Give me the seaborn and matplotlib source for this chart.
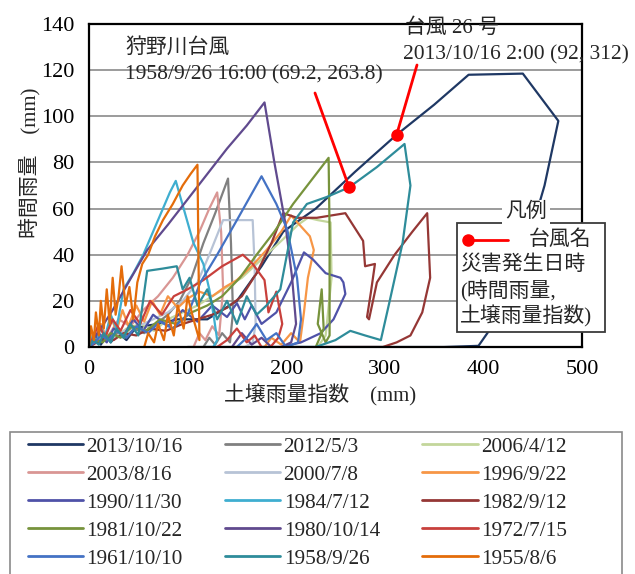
import matplotlib
matplotlib.use("Agg")
import matplotlib.pyplot as plt
import pandas as pd
import seaborn as sns
from matplotlib.patches import Rectangle
from matplotlib.lines import Line2D

# ---- data: soil rainfall index (mm) vs. hourly rainfall (mm) per event ----
events = ["2013/10/16", "2012/5/3", "2006/4/12", "2003/8/16", "2000/7/8", "1996/9/22",
          "1990/11/30", "1984/7/12", "1982/9/12", "1981/10/22", "1980/10/14", "1972/7/15",
          "1961/10/10", "1958/9/26", "1955/8/6"]

soil_2013 = [0, 3, 8, 12, 18, 22, 30, 38, 45, 55, 70, 90, 120, 150, 175, 197, 230, 270, 312,
             350, 385, 440, 476, 462, 445, 425, 404, 395, 360, 320, 280, 240, 200, 160, 120, 100]
rain_2013 = [0, 2, 4, 1, 5, 2, 6, 3, 7, 9, 10, 12, 12, 20, 35, 50, 60, 76, 92,
             105, 118, 118.5, 98, 70, 45, 20, 6, 0.5, 0, 0, 0, 0, 0, 0, 0, 0]

soil_2012 = [0, 6, 12, 20, 28, 36, 46, 56, 68, 80, 92, 104, 116, 128, 141, 144, 146, 143, 135,
             128, 122, 116]
rain_2012 = [0, 2, 5, 3, 6, 4, 8, 6, 10, 14, 20, 30, 45, 58, 73, 45, 15, 2, 6, 1, 4, 0]

soil_2006 = [0, 8, 16, 26, 38, 52, 66, 80, 95, 110, 125, 140, 155, 170, 185, 200, 212, 222,
             232, 245, 246, 240, 232]
rain_2006 = [0, 3, 6, 4, 8, 10, 7, 12, 15, 18, 22, 26, 30, 36, 42, 48, 53, 56,
             55, 54, 30, 5, 0]

soil_2003 = [0, 5, 12, 20, 30, 42, 55, 70, 85, 100, 112, 122, 130, 134, 136, 132, 125,
             118, 112, 106]
rain_2003 = [0, 4, 8, 5, 12, 9, 16, 22, 30, 40, 50, 60, 67, 50, 25, 5, 9, 3, 6, 0]

soil_2000 = [0, 6, 14, 24, 36, 50, 65, 80, 95, 110, 122, 136, 150, 166, 168, 169, 166, 158]
rain_2000 = [0, 2, 5, 3, 7, 9, 12, 15, 20, 28, 40, 55, 55, 55, 35, 10, 2, 0]

soil_1996 = [0, 4, 8, 12, 17, 22, 28, 34, 40, 48, 56, 64, 72, 80, 90, 100, 112, 125, 138,
             150, 165, 180, 195, 205, 224, 228, 222, 218, 214, 205, 195, 185, 178, 170]
rain_1996 = [0, 6, 2, 10, 4, 13, 7, 16, 9, 18, 11, 20, 14, 22, 17, 21, 24, 22, 26,
             29, 35, 42, 50, 57, 48, 42, 30, 15, 2, 6, 1, 4, 0, 0]

soil_1990 = [0, 5, 10, 18, 25, 35, 45, 55, 65, 80, 95, 110, 125, 140, 150, 158, 165, 175,
             190, 205, 218, 227, 240, 255, 258, 260, 248, 235, 215, 195]
rain_1990 = [0, 3, 6, 2, 8, 5, 12, 7, 14, 9, 16, 11, 18, 13, 19, 12, 18, 10,
             15, 28, 41, 38, 32, 30, 28, 23, 12, 6, 2, 0]

soil_1984 = [0, 4, 8, 12, 16, 22, 28, 35, 45, 55, 65, 75, 82, 88, 96, 106, 116, 122, 127,
             130, 126, 118]
rain_1984 = [0, 5, 2, 9, 4, 14, 8, 25, 32, 40, 50, 60, 67, 72, 60, 45, 36, 25, 12,
             3, 0, 0]

soil_1982 = [0, 8, 16, 25, 35, 48, 62, 78, 95, 110, 125, 140, 155, 170, 185, 197, 211, 231,
             260, 278, 280, 290, 286, 282, 284, 292, 310, 328, 343, 346, 338, 326, 312,
             298, 270, 240]
rain_1982 = [0, 2, 4, 3, 6, 5, 8, 7, 10, 12, 14, 17, 22, 32, 45, 58, 56, 56,
             58, 46, 35, 36, 24, 13, 12, 28, 40, 50, 58, 30, 15, 5, 2,
             0, 0, 0]

soil_1981 = [0, 6, 14, 22, 32, 44, 58, 72, 88, 104, 120, 135, 153, 170, 188, 207, 225, 243,
             244, 244, 240, 232, 236, 238, 230]
rain_1981 = [0, 3, 2, 6, 4, 9, 7, 12, 10, 15, 18, 22, 30, 40, 50, 62, 72, 82,
             50, 5, 2, 10, 25, 8, 0]

soil_1980 = [0, 5, 12, 24, 40, 59, 80, 100, 120, 140, 160, 178, 188, 199, 206, 210, 205, 195,
             185, 175, 165, 155, 145]
rain_1980 = [0, 4, 8, 16, 28, 42, 53, 64, 75, 86, 96, 106, 80, 54, 30, 10, 2, 0,
             0, 4, 1, 6, 0]

soil_1972 = [0, 5, 10, 16, 24, 32, 42, 52, 62, 74, 86, 100, 116, 135, 156, 166, 178, 182,
             190, 196, 192, 184, 175, 168, 160, 150, 140, 130]
rain_1972 = [0, 5, 10, 4, 12, 7, 16, 10, 20, 14, 22, 25, 29, 35, 40, 36, 29, 15,
             24, 10, 4, 0, 0, 5, 2, 8, 3, 0]

soil_1961 = [0, 6, 12, 20, 28, 38, 48, 60, 72, 85, 100, 113, 130, 150, 175, 190, 201, 211,
             215, 212, 200, 190, 180, 170, 160, 150]
rain_1961 = [0, 2, 5, 3, 7, 4, 9, 6, 11, 8, 14, 28, 40, 55, 74, 62, 51, 30,
             12, 2, 0, 6, 3, 10, 4, 0]

soil_1958 = [0, 4, 10, 15, 22, 28, 35, 42, 50, 59, 75, 89, 95, 102, 110, 120, 130, 140, 150,
             160, 170, 180, 194, 207, 221, 241, 263.8, 292, 320, 326, 318, 305, 296, 280,
             265, 250, 230, 200]
rain_1958 = [0, 3, 1, 6, 2, 8, 4, 10, 5, 33, 34, 35, 25, 30, 18, 25, 12, 20, 10,
             22, 14, 18, 25, 54, 62, 65, 69.2, 78, 88, 70, 45, 20, 3, 5,
             7, 3, 0, 0]

soil_1955 = [0, 2, 5, 7, 10, 12, 15, 18, 21, 24, 27, 30, 33, 37, 41, 45, 49, 54, 60, 67,
             75, 85, 95, 103, 110, 111, 112, 106, 100, 96, 90, 86, 80, 76, 70, 66, 60, 56]
rain_1955 = [0, 9, 3, 15, 5, 20, 8, 25, 10, 30, 14, 22, 35, 18, 26, 12, 28, 36, 40, 48,
             55, 62, 70, 75, 79, 40, 3, 12, 22, 8, 18, 5, 14, 3, 10, 2, 6, 0]

soil_paths = [soil_2013, soil_2012, soil_2006, soil_2003, soil_2000, soil_1996, soil_1990,
              soil_1984, soil_1982, soil_1981, soil_1980, soil_1972, soil_1961, soil_1958,
              soil_1955]
rain_paths = [rain_2013, rain_2012, rain_2006, rain_2003, rain_2000, rain_1996, rain_1990,
              rain_1984, rain_1982, rain_1981, rain_1980, rain_1972, rain_1961, rain_1958,
              rain_1955]

# typhoon disaster moments: (hourly rainfall, soil rainfall index)
kanogawa_rain, kanogawa_soil = 69.2, 263.8
no26_rain, no26_soil = 92, 312

colors = ["#1F3864", "#808080", "#C3D69B", "#D99694", "#B7C3D6", "#F79646",
          "#4F52A8", "#3FAED0", "#953735", "#77933C", "#604A8E", "#C8403C",
          "#4472C4", "#2E8C9A", "#E46C0A"]
palette = dict(zip(events, colors))

frames = []
for ev, sx, ry in zip(events, soil_paths, rain_paths):
    frames.append(pd.DataFrame({"soil": sx, "rain": ry, "event": ev,
                                "step": range(len(sx))}))
df = pd.concat(frames, ignore_index=True)

# ---- figure ----
sns.set_style("white")
plt.rcParams["font.family"] = ["Liberation Serif", "Noto Sans CJK JP"]
FS = 15

W, H = 635, 574
fig = plt.figure(figsize=(W / 100, H / 100), dpi=100)
ax = fig.add_axes([89 / W, 1 - 347 / H, 493 / W, 323 / H])


def fx(px):
    return px / W


def fy(py):
    return 1 - py / H


sns.lineplot(data=df, x="soil", y="rain", hue="event", hue_order=events,
             palette=palette, sort=False, estimator=None, lw=1.6,
             legend=False, ax=ax)

ax.set_xlim(0, 500)
ax.set_ylim(0, 140)
ax.set_xticks(range(0, 501, 100))
ax.set_yticks(range(0, 141, 20))
ax.set_xlabel("")
ax.set_ylabel("")
ax.yaxis.grid(True, color="#8a8a8a", lw=1.2)
ax.xaxis.grid(False)
ax.set_axisbelow(True)
for s in ax.spines.values():
    s.set_color("black")
    s.set_linewidth(1.6)
ax.tick_params(axis="both", direction="inout", length=7, width=1.4,
               colors="black", labelsize=16)
ax.tick_params(axis="y", pad=7)
ax.tick_params(axis="x", pad=6)

# axis titles
fig.text(fx(30), fy(163), "時間雨量　(mm)", rotation=90, ha="center", va="center",
         fontsize=FS)
fig.text(fx(320), fy(395), "土壌雨量指数　(mm)", ha="center", va="center", fontsize=FS)

# typhoon callouts
fig.text(fx(125), fy(48), "狩野川台風", ha="left", va="center", fontsize=FS)
fig.text(fx(125), fy(75), f"1958/9/26 16:00 ({kanogawa_rain}, {kanogawa_soil})",
         ha="left", va="center", fontsize=15.5)
fig.text(fx(405), fy(28), "台風 26 号", ha="left", va="center", fontsize=FS)
fig.text(fx(403), fy(55), f"2013/10/16 2:00 ({no26_rain}, {no26_soil})",
         ha="left", va="center", fontsize=15.5)

for (sx, ry, tx, ty) in [(kanogawa_soil, kanogawa_rain, 315, 93),
                         (no26_soil, no26_rain, 417, 65)]:
    ax.annotate("", xy=(sx, ry), xytext=(tx, H - ty), textcoords="figure pixels",
                arrowprops=dict(arrowstyle="-", color="#FF0000", lw=2.0,
                                shrinkA=0, shrinkB=0), annotation_clip=False)
    ax.plot(sx, ry, "o", color="#FF0000", ms=8, zorder=5)

# in-plot key box
box = Rectangle((fx(457), fy(332)), fx(605) - fx(457), fy(223) - fy(332),
                transform=fig.transFigure, facecolor="white", edgecolor="#3a3a3a",
                lw=1.3, zorder=10)
fig.add_artist(box)
fig.text(fx(526), fy(212), "凡例", ha="center", va="center", fontsize=FS, zorder=11,
         bbox=dict(facecolor="white", edgecolor="none", pad=2))
key_line = Line2D([fx(468), fx(508)], [fy(240), fy(240)], transform=fig.transFigure,
                  color="#FF0000", lw=2.0, marker="o", markevery=[0], ms=8, zorder=11)
fig.add_artist(key_line)
fig.text(fx(560), fy(240), "台風名", ha="center", va="center", fontsize=FS, zorder=11)
fig.text(fx(460), fy(265), "災害発生日時", ha="left", va="center", fontsize=FS, zorder=11)
fig.text(fx(460), fy(291), "(時間雨量,", ha="left", va="center", fontsize=FS, zorder=11)
fig.text(fx(460), fy(316), "土壌雨量指数)", ha="left", va="center", fontsize=FS, zorder=11)

# event legend below the plot (row-wise order across three columns)
handles = [Line2D([0], [0], color=palette[e], lw=2.0) for e in events]
order = [i for c in range(3) for i in range(c, len(events), 3)]
fig.legend([handles[i] for i in order], [events[i] for i in order],
           loc="upper left", bbox_to_anchor=(fx(28), fy(437)), ncol=3,
           frameon=False, fontsize=15.3, handlelength=2.6, handletextpad=0.15,
           columnspacing=2.0, labelspacing=0.38, borderpad=0, borderaxespad=0)
frame = Rectangle((fx(10), fy(590)), fx(622) - fx(10), fy(432) - fy(590),
                  transform=fig.transFigure, facecolor="none", edgecolor="#8a8a8a",
                  lw=1.2)
fig.add_artist(frame)

fig.savefig("out.png", dpi=100)
